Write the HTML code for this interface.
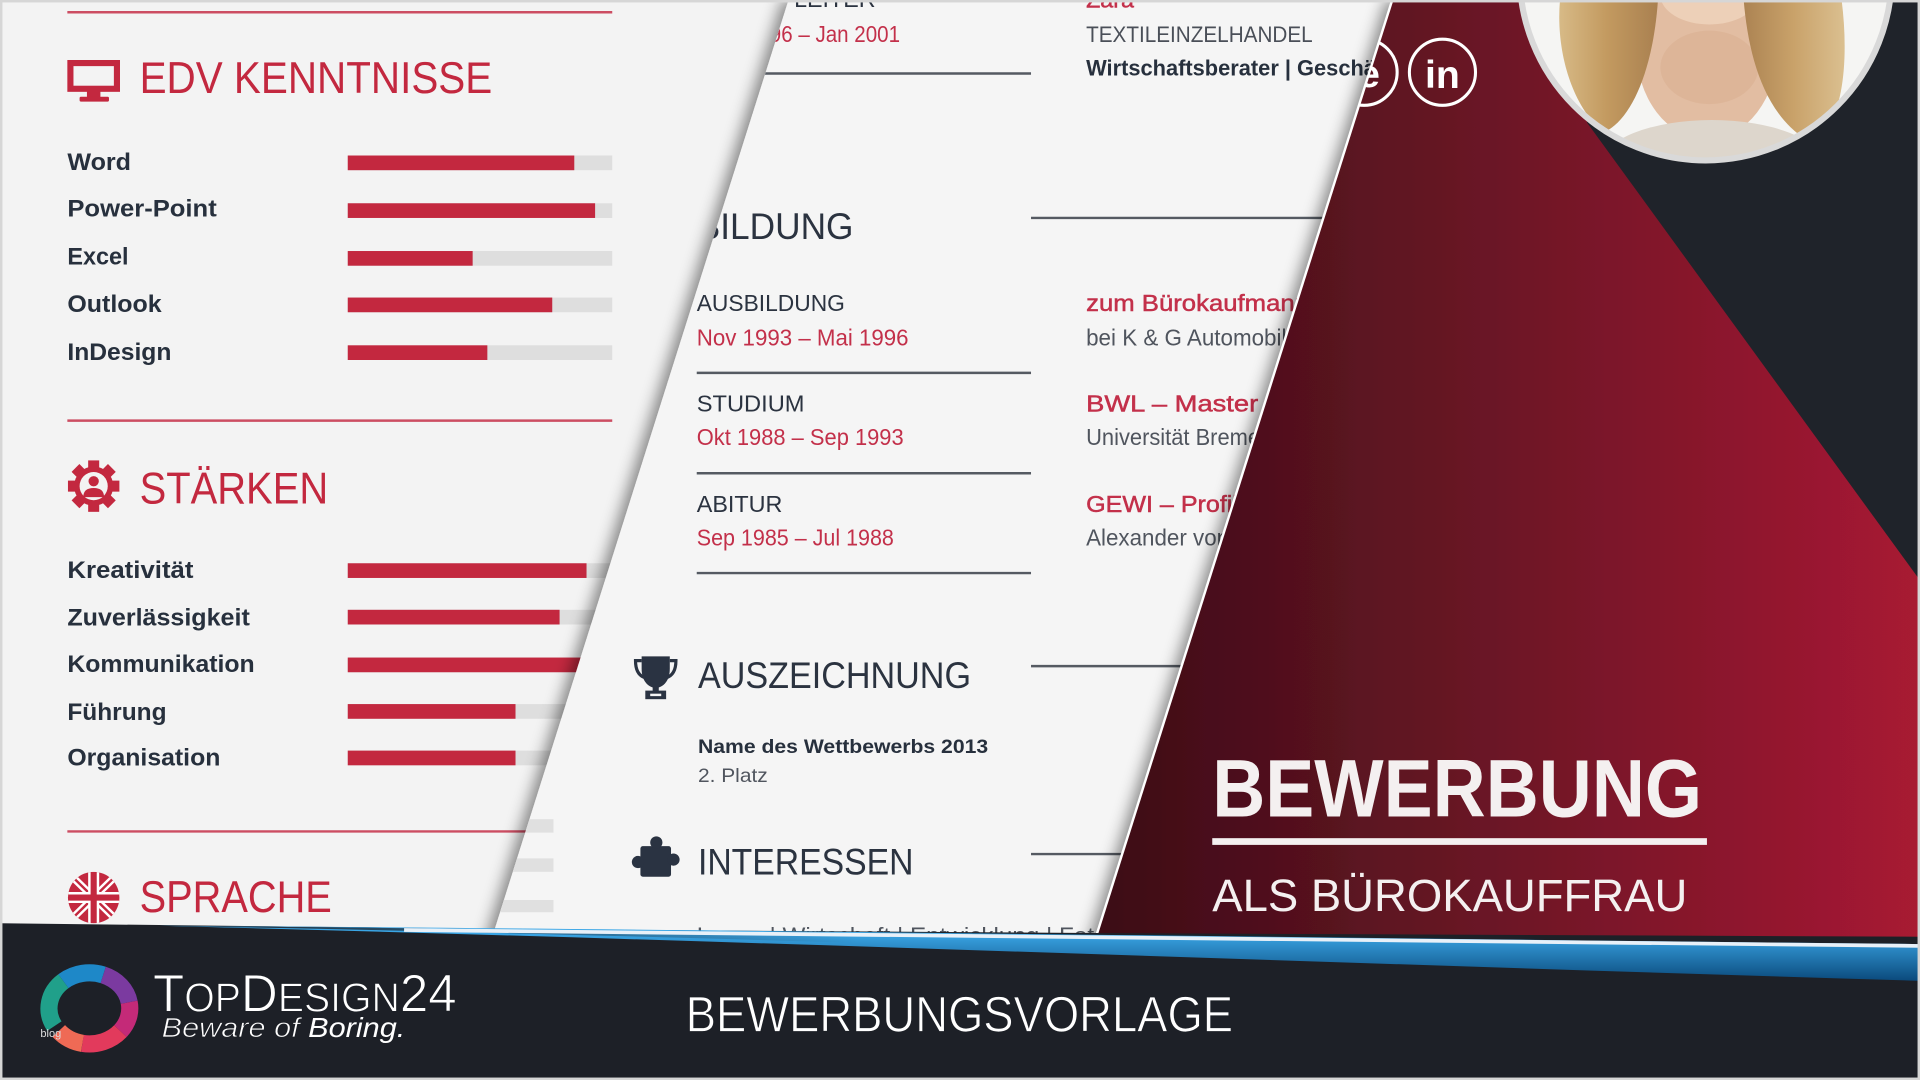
<!DOCTYPE html>
<html><head><meta charset="utf-8">
<style>
html,body{margin:0;padding:0;background:#f3f3f3;overflow:hidden;}
svg{display:block;}
text{font-family:"Liberation Sans",sans-serif;}
</style></head><body>
<svg width="1920" height="1080" viewBox="0 0 1568 882" preserveAspectRatio="none" xmlns="http://www.w3.org/2000/svg">
<defs>
 <linearGradient id="redg" x1="885" y1="0" x2="1568" y2="0" gradientUnits="userSpaceOnUse">
   <stop offset="0" stop-color="#3a0d15"/>
   <stop offset="0.5" stop-color="#6c1526"/>
   <stop offset="1" stop-color="#a81a33"/>
 </linearGradient>
 <linearGradient id="blueg" x1="0" y1="762" x2="0" y2="801" gradientUnits="userSpaceOnUse">
   <stop offset="0" stop-color="#3aa6e6"/>
   <stop offset="1" stop-color="#0b4a7c"/>
 </linearGradient>
 <linearGradient id="bluefade" x1="130" y1="0" x2="700" y2="0" gradientUnits="userSpaceOnUse">
   <stop offset="0" stop-color="#1d2027" stop-opacity="1"/>
   <stop offset="1" stop-color="#1d2027" stop-opacity="0"/>
 </linearGradient>
 <linearGradient id="hairL" x1="1270" y1="0" x2="1354" y2="0" gradientUnits="userSpaceOnUse">
   <stop offset="0" stop-color="#d9bd8a"/>
   <stop offset="0.5" stop-color="#c39a60"/>
   <stop offset="1" stop-color="#a98050"/>
 </linearGradient>
 <linearGradient id="hairR" x1="1420" y1="0" x2="1510" y2="0" gradientUnits="userSpaceOnUse">
   <stop offset="0" stop-color="#a98050"/>
   <stop offset="0.5" stop-color="#c9a26a"/>
   <stop offset="1" stop-color="#dcc293"/>
 </linearGradient>
 <filter id="sh" x="-20%" y="-5%" width="140%" height="110%">
   <feDropShadow dx="-5" dy="0" stdDeviation="6" flood-color="#000" flood-opacity="0.45"/>
 </filter>
 <clipPath id="midclip"><polygon points="644,0 1568,0 1568,800 391,800"/></clipPath>
 <clipPath id="redclip"><polygon points="1137,0 1568,0 1568,800 884,800"/></clipPath>
 <clipPath id="photoclip"><circle cx="1393" cy="-21" r="150"/></clipPath>
 <clipPath id="ukclip"><circle cx="76.5" cy="733" r="21"/></clipPath>
</defs>

<!-- LEFT PANEL -->
<rect width="1568" height="882" fill="#f3f3f3"/>
<line x1="55" y1="10" x2="500" y2="10" stroke="#cc4d62" stroke-width="2"/>

<g fill="#c3283f">
 <rect x="57.5" y="51.5" width="38" height="21" fill="none" stroke="#c3283f" stroke-width="5"/>
 <rect x="71" y="74" width="11" height="6"/>
 <rect x="65" y="79" width="24" height="4" rx="1"/>
</g>
<text x="114" y="76" font-size="36" fill="#c3283f" textLength="288" lengthAdjust="spacingAndGlyphs">EDV KENNTNISSE</text>

<g font-size="20" font-weight="bold" fill="#27303d">
 <text x="55" y="139" textLength="52" lengthAdjust="spacingAndGlyphs">Word</text>
 <text x="55" y="177" textLength="122" lengthAdjust="spacingAndGlyphs">Power-Point</text>
 <text x="55" y="216" textLength="50" lengthAdjust="spacingAndGlyphs">Excel</text>
 <text x="55" y="255" textLength="77" lengthAdjust="spacingAndGlyphs">Outlook</text>
 <text x="55" y="294" textLength="85" lengthAdjust="spacingAndGlyphs">InDesign</text>
</g>
<g fill="#dedede">
 <rect x="284" y="127" width="216" height="12"/>
 <rect x="284" y="166" width="216" height="12"/>
 <rect x="284" y="205" width="216" height="12"/>
 <rect x="284" y="243" width="216" height="12"/>
 <rect x="284" y="282" width="216" height="12"/>
</g>
<g fill="#c3283f">
 <rect x="284" y="127" width="185" height="12"/>
 <rect x="284" y="166" width="202" height="12"/>
 <rect x="284" y="205" width="102" height="12"/>
 <rect x="284" y="243" width="167" height="12"/>
 <rect x="284" y="282" width="114" height="12"/>
</g>

<line x1="55" y1="343.5" x2="500" y2="343.5" stroke="#cc4d62" stroke-width="2"/>

<g transform="translate(76.5,397)" fill="#c3283f">
 <circle r="16"/>
 <rect x="-4.5" y="-21" width="9" height="9"/>
 <rect x="-4.5" y="-21" width="9" height="9" transform="rotate(45)"/>
 <rect x="-4.5" y="-21" width="9" height="9" transform="rotate(90)"/>
 <rect x="-4.5" y="-21" width="9" height="9" transform="rotate(135)"/>
 <rect x="-4.5" y="-21" width="9" height="9" transform="rotate(180)"/>
 <rect x="-4.5" y="-21" width="9" height="9" transform="rotate(225)"/>
 <rect x="-4.5" y="-21" width="9" height="9" transform="rotate(270)"/>
 <rect x="-4.5" y="-21" width="9" height="9" transform="rotate(315)"/>
 <circle r="11.5" fill="#f3f3f3"/>
 <circle cy="-4" r="4.2"/>
 <path d="M-8.5,9 Q-8.5,1.5 0,1.5 Q8.5,1.5 8.5,9 Z"/>
</g>
<text x="114" y="411" font-size="36" fill="#c3283f" textLength="154" lengthAdjust="spacingAndGlyphs">STÄRKEN</text>

<g font-size="20" font-weight="bold" fill="#27303d">
 <text x="55" y="472" textLength="103" lengthAdjust="spacingAndGlyphs">Kreativität</text>
 <text x="55" y="511" textLength="149" lengthAdjust="spacingAndGlyphs">Zuverlässigkeit</text>
 <text x="55" y="549" textLength="153" lengthAdjust="spacingAndGlyphs">Kommunikation</text>
 <text x="55" y="588" textLength="81" lengthAdjust="spacingAndGlyphs">Führung</text>
 <text x="55" y="625" textLength="125" lengthAdjust="spacingAndGlyphs">Organisation</text>
</g>
<g fill="#dedede">
 <rect x="284" y="460" width="216" height="12"/>
 <rect x="284" y="498" width="216" height="12"/>
 <rect x="284" y="537" width="216" height="12"/>
 <rect x="284" y="575" width="216" height="12"/>
 <rect x="284" y="613" width="216" height="12"/>
</g>
<g fill="#c3283f">
 <rect x="284" y="460" width="195" height="12"/>
 <rect x="284" y="498" width="173" height="12"/>
 <rect x="284" y="537" width="200" height="12"/>
 <rect x="284" y="575" width="137" height="12"/>
 <rect x="284" y="613" width="137" height="12"/>
</g>

<line x1="55" y1="679" x2="460" y2="679" stroke="#cc4d62" stroke-width="2"/>

<g clip-path="url(#ukclip)">
 <rect x="55" y="712" width="43" height="42" fill="#c3283f"/>
 <path d="M55,712 L98,754 M98,712 L55,754" stroke="#fff" stroke-width="6"/>
 <path d="M55,712 L98,754 M98,712 L55,754" stroke="#c3283f" stroke-width="2"/>
 <path d="M76.5,712 V754 M55,733 H98" stroke="#fff" stroke-width="9"/>
 <path d="M76.5,712 V754 M55,733 H98" stroke="#c3283f" stroke-width="5"/>
</g>
<text x="114" y="745" font-size="36" fill="#c3283f" textLength="157" lengthAdjust="spacingAndGlyphs">SPRACHE</text>

<!-- MIDDLE PANEL -->
<g filter="url(#sh)"><polygon points="644,0 1568,0 1568,800 391,800" fill="#f5f5f5"/></g>
<g clip-path="url(#midclip)">
 <g fill="#e0e0e0">
  <rect x="400" y="669" width="52" height="11"/>
  <rect x="400" y="701" width="52" height="11"/>
  <rect x="400" y="735" width="52" height="10"/>
 </g>
 <text x="715" y="5.5" font-size="19" fill="#2b3340" text-anchor="end">SHOP-LEITER</text>
 <text x="610" y="34.5" font-size="19" fill="#c3304a" textLength="125" lengthAdjust="spacingAndGlyphs">1996 – Jan 2001</text>
 <line x1="560" y1="60" x2="842" y2="60" stroke="#555a62" stroke-width="2"/>
 <text x="887" y="6" font-size="19" fill="#c3304a" stroke="#c3304a" stroke-width="0.4">Zara</text>
 <text x="887" y="34.5" font-size="18" fill="#4a4f58" textLength="185" lengthAdjust="spacingAndGlyphs">TEXTILEINZELHANDEL</text>
 <text x="887" y="61.5" font-size="18" font-weight="bold" fill="#27303d" textLength="310" lengthAdjust="spacingAndGlyphs">Wirtschaftsberater | Geschäftsführer</text>

 <text x="569" y="195" font-size="30" fill="#2b3340" textLength="128" lengthAdjust="spacingAndGlyphs">BILDUNG</text>
 <line x1="842" y1="178" x2="1568" y2="178" stroke="#555a62" stroke-width="2"/>

 <g font-size="19">
  <text x="569" y="254" fill="#2b3340" textLength="121" lengthAdjust="spacingAndGlyphs">AUSBILDUNG</text>
  <text x="569" y="282" fill="#c3304a" textLength="173" lengthAdjust="spacingAndGlyphs">Nov 1993 – Mai 1996</text>
  <text x="569" y="336" fill="#2b3340" textLength="88" lengthAdjust="spacingAndGlyphs">STUDIUM</text>
  <text x="569" y="363.5" fill="#c3304a" textLength="169" lengthAdjust="spacingAndGlyphs">Okt 1988 – Sep 1993</text>
  <text x="569" y="418" fill="#2b3340" textLength="70" lengthAdjust="spacingAndGlyphs">ABITUR</text>
  <text x="569" y="445.5" fill="#c3304a" textLength="161" lengthAdjust="spacingAndGlyphs">Sep 1985 – Jul 1988</text>

  <text x="887" y="254" fill="#c3304a" stroke="#c3304a" stroke-width="0.4" textLength="182" lengthAdjust="spacingAndGlyphs">zum Bürokaufmann</text>
  <text x="887" y="282" fill="#50555e" textLength="188" lengthAdjust="spacingAndGlyphs">bei K &amp; G Automobilien</text>
  <text x="887" y="336" fill="#c3304a" stroke="#c3304a" stroke-width="0.4" textLength="210" lengthAdjust="spacingAndGlyphs">BWL – Master of Arts</text>
  <text x="887" y="363.5" fill="#50555e" textLength="152" lengthAdjust="spacingAndGlyphs">Universität Bremen</text>
  <text x="887" y="418" fill="#c3304a" stroke="#c3304a" stroke-width="0.4" textLength="124" lengthAdjust="spacingAndGlyphs">GEWI – Profil</text>
  <text x="887" y="445.5" fill="#50555e" textLength="200" lengthAdjust="spacingAndGlyphs">Alexander von Humboldt</text>
 </g>
 <g stroke="#555a62" stroke-width="2">
  <line x1="569" y1="304.5" x2="842" y2="304.5"/>
  <line x1="569" y1="386.5" x2="842" y2="386.5"/>
  <line x1="569" y1="468" x2="842" y2="468"/>
  <line x1="842" y1="544" x2="1568" y2="544"/>
  <line x1="842" y1="697.5" x2="1568" y2="697.5"/>
 </g>

 <g fill="#2a3342">
  <path d="M524,536 H547 V546 C547,556 542,561 535.5,562 C529,561 524,556 524,546 Z"/>
  <path d="M524,539.5 H519 C519,548 522,552 527,553.5" fill="none" stroke="#2a3342" stroke-width="2.6"/>
  <path d="M547,539.5 H552 C552,548 549,552 544,553.5" fill="none" stroke="#2a3342" stroke-width="2.6"/>
  <rect x="533" y="561" width="5" height="4"/>
  <rect x="527" y="564" width="17" height="7"/>
  <rect x="531" y="566.5" width="9" height="2" fill="#f5f5f5"/>
 </g>
 <text x="570" y="562" font-size="30" fill="#2b3340" textLength="223" lengthAdjust="spacingAndGlyphs">AUSZEICHNUNG</text>
 <text x="570" y="615" font-size="16" font-weight="bold" fill="#27303d" textLength="237" lengthAdjust="spacingAndGlyphs">Name des Wettbewerbs 2013</text>
 <text x="570" y="638.5" font-size="16" fill="#50555e" textLength="57" lengthAdjust="spacingAndGlyphs">2. Platz</text>

 <g fill="#2a3342">
  <rect x="523" y="691" width="25" height="25" rx="2"/>
  <circle cx="536" cy="688" r="5"/>
  <circle cx="521" cy="704" r="5"/>
  <circle cx="550" cy="702" r="5"/>
 </g>
 <text x="570" y="714" font-size="30" fill="#2b3340" textLength="176" lengthAdjust="spacingAndGlyphs">INTERESSEN</text>
 <text x="569" y="770" font-size="18" fill="#50555e" textLength="385" lengthAdjust="spacingAndGlyphs">Lesen | Wirtschaft | Entwicklung | Fotografie</text>
</g>

<!-- RED PANEL -->
<g filter="url(#sh)"><polygon points="1137,0 1568,0 1568,800 884,800" fill="url(#redg)"/></g>
<line x1="1137" y1="0" x2="884" y2="800" stroke="#ffffff" stroke-width="2"/>
<polygon points="1296,100 1340,0 1568,0 1568,474" fill="#1f232a"/>

<g clip-path="url(#photoclip)">
 <rect x="1240" y="-180" width="310" height="320" fill="#f5f5f3"/>
 <ellipse cx="1394" cy="38" rx="58" ry="76" fill="#e2bda2"/>
 <ellipse cx="1396" cy="-4" rx="40" ry="24" fill="#edd0b8"/>
 <ellipse cx="1396" cy="55" rx="40" ry="30" fill="#dcb294" opacity="0.7"/>
 <path d="M1274,0 C1270,45 1286,90 1310,108 C1332,98 1350,58 1354,0 Z" fill="url(#hairL)"/>
 <path d="M1424,0 C1428,48 1442,98 1482,118 C1506,98 1510,48 1504,0 Z" fill="url(#hairR)"/>
 <ellipse cx="1398" cy="134" rx="90" ry="36" fill="#ddd6cc"/>
</g>
<circle cx="1393" cy="-21" r="152" fill="none" stroke="#d9d9d9" stroke-width="5"/>

<g clip-path="url(#redclip)">
 <circle cx="1114" cy="59" r="27" fill="none" stroke="#fff" stroke-width="2.5"/>
 <text x="1118" y="71" font-size="32" font-weight="bold" fill="#fff" text-anchor="middle">e</text>
</g>
<circle cx="1178" cy="59" r="27" fill="none" stroke="#fff" stroke-width="2.5"/>
<text x="1178" y="72" font-size="32" font-weight="bold" fill="#fff" text-anchor="middle">in</text>

<text x="990" y="667" font-size="67" font-weight="bold" fill="#f4f0f0" textLength="400" lengthAdjust="spacingAndGlyphs">BEWERBUNG</text>
<rect x="990" y="684.5" width="404" height="5.5" fill="#f4f0f0"/>
<text x="990" y="744" font-size="37" fill="#f4f0f0" textLength="388" lengthAdjust="spacingAndGlyphs">ALS BÜROKAUFFRAU</text>

<!-- FOOTER -->
<path d="M0,754 L450,759 L893,762 L1568,765 L1568,882 L0,882 Z" fill="#1d2027"/>
<path d="M130,756 C500,758 1000,765 1568,771 L1568,801 C1100,787 600,768 130,756 Z" fill="url(#blueg)"/>
<path d="M130,756 C400,758 600,762 700,764 L700,770 C500,764 300,759 130,756 Z" fill="url(#bluefade)"/>
<path d="M330,759.5 C700,763 1100,767 1568,772.5" fill="none" stroke="#e8f0f8" stroke-width="3"/>

<g fill="none" stroke-width="14">
 <path d="M44.4,838 A33 29 0 0 1 51.8,801.3" stroke="#20a08a"/>
 <path d="M51.8,801.3 A33 29 0 0 1 84.3,796.2" stroke="#1e88c8"/>
 <path d="M84.3,796.2 A33 29 0 0 1 105.5,818.5" stroke="#7b3aa0"/>
 <path d="M105.5,818.5 A33 29 0 0 1 98.3,842.1" stroke="#c42a78"/>
 <path d="M98.3,842.1 A33 29 0 0 1 67.3,852.1" stroke="#e23a5c"/>
 <path d="M67.3,852.1 A33 29 0 0 1 48,842" stroke="#ef6a55"/>
</g>
<text x="33" y="847" font-size="9" fill="#dddddd">blog</text>
<text x="125" y="826" fill="#ffffff" font-size="43" stroke="#1d2027" stroke-width="0.8" textLength="248" lengthAdjust="spacingAndGlyphs">T<tspan font-size="33">OP</tspan>D<tspan font-size="33">ESIGN</tspan>24</text>
<text x="132" y="847" fill="#ffffff" font-size="23" font-style="italic" stroke="#1d2027" stroke-width="0.6" textLength="199" lengthAdjust="spacingAndGlyphs">Beware of <tspan stroke-width="0">Boring.</tspan></text>

<text x="560" y="842.5" font-size="41" fill="#ffffff" stroke="#1d2027" stroke-width="0.7" textLength="447" lengthAdjust="spacingAndGlyphs">BEWERBUNGSVORLAGE</text>

<rect x="1" y="1" width="1566" height="880" fill="none" stroke="#d6d6d6" stroke-width="2"/>
</svg>
</body></html>
